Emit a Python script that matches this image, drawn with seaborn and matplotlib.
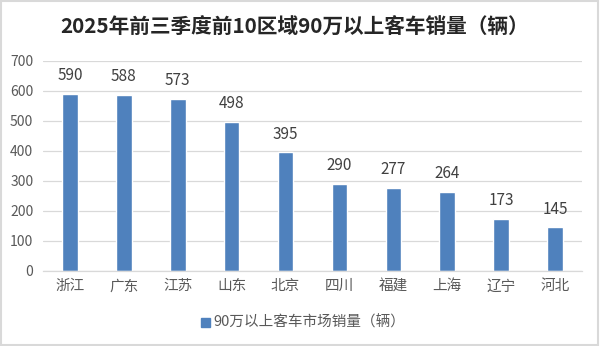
import matplotlib
matplotlib.use("Agg")
import matplotlib.pyplot as plt
from matplotlib.patches import Rectangle
import seaborn as sns
import pandas as pd

regions = ["浙江", "广东", "江苏", "山东", "北京", "四川", "福建", "上海", "辽宁", "河北"]
sales = [590, 588, 573, 498, 395, 290, 277, 264, 173, 145]
series_name = "90万以上客车市场销量（辆）"
title = "2025年前三季度前10区域90万以上客车销量（辆）"
yticks = [0, 100, 200, 300, 400, 500, 600, 700]

sns.set_theme(style="white")
plt.rcParams["font.family"] = ["Noto Sans CJK SC", "DejaVu Sans"]

bar_color = "#4F81BD"
text_color = "#595959"

df = pd.DataFrame({"region": regions, "sales": sales, "series": series_name})

fig = plt.figure(figsize=(6.0, 3.46), dpi=100)
ax = fig.add_axes([0.0717, 0.2168, 0.8983, 0.6069])

sns.barplot(data=df, x="region", y="sales", hue="series", palette=[bar_color],
            width=0.29, ax=ax, legend=False, saturation=1)

ax.set_ylim(0, 700)
ax.set_yticks(yticks)
ax.set_xlim(-0.5, len(regions) - 0.5)
ax.yaxis.grid(True, color="#D9D9D9", linewidth=0.9)
ax.set_axisbelow(True)
for s in ["top", "right", "left"]:
    ax.spines[s].set_visible(False)
ax.spines["bottom"].set_color("#D9D9D9")
ax.spines["bottom"].set_linewidth(0.9)
ax.set_xlabel("")
ax.set_ylabel("")
ax.tick_params(axis="y", length=0, labelsize=10, labelcolor=text_color, pad=7)
ax.tick_params(axis="x", length=0, labelsize=10.5, labelcolor=text_color, pad=6)

for i, v in enumerate(sales):
    ax.annotate(str(v), (i, v), xytext=(0, 7), textcoords="offset points",
                ha="center", va="bottom", fontsize=11, color="#404040")

fig.text(0.4915, 0.922, title, ha="center", va="center", fontsize=14.9,
         fontweight="bold", color="#262626")

# legend entry
fig.patches.append(Rectangle((0.335, 0.056), 0.015, 0.026,
                             transform=fig.transFigure, color=bar_color))
fig.text(0.355, 0.069, series_name, ha="left", va="center", fontsize=10.5,
         color=text_color)

# outer border
fig.patches.append(Rectangle((0.002, 0.003), 0.995, 0.993, transform=fig.transFigure,
                             fill=False, edgecolor="#D9D9D9", linewidth=1.5))

fig.savefig("out.png", dpi=100, facecolor="white")
